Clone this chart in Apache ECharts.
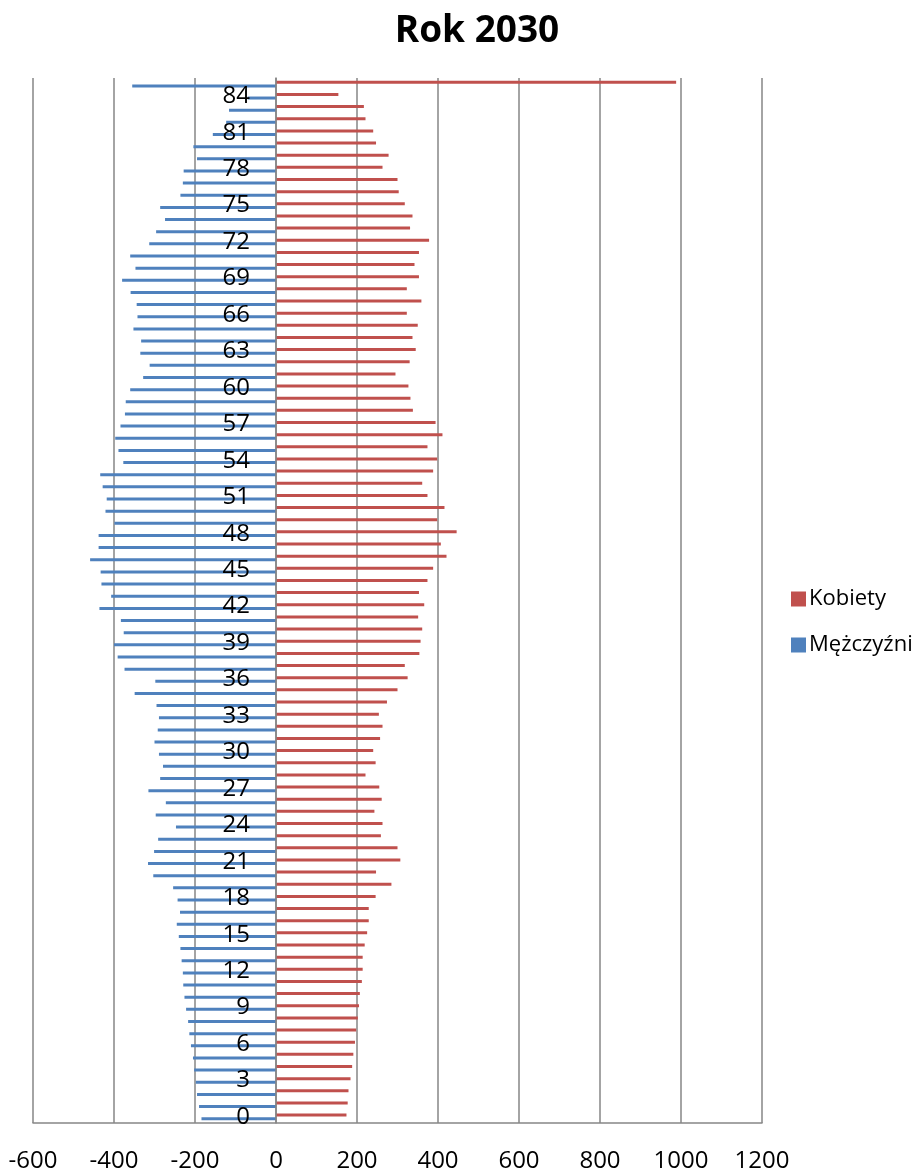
<!DOCTYPE html>
<html>
<head>
<meta charset="utf-8">
<title>Rok 2030</title>
<script src="https://cdn.jsdelivr.net/npm/echarts@6/dist/echarts.min.js"></script>
<style>
  html, body { margin: 0; padding: 0; background: #ffffff; }
  #chart { width: 923px; height: 1169px; }
</style>
</head>
<body>
<div id="chart"></div>
<script>
// Age groups 0..85 (bottom to top of the pyramid)
const ages = Array.from({ length: 86 }, (_, i) => String(i));

// Men, drawn to the left of zero (negative values), ages 0..85
const men = [
  -184, -190, -195, -198, -202, -205, -210, -214, -217, -222,
  -226, -229, -230, -233, -236, -240, -245, -237, -243, -254,
  -303, -316, -301, -291, -247, -297, -272, -315, -286, -279,
  -289, -300, -292, -289, -295, -349, -298, -374, -391, -400,
  -376, -383, -436, -407, -431, -433, -459, -438, -438, -399,
  -421, -418, -428, -434, -377, -389, -397, -384, -373, -371,
  -360, -328, -312, -335, -333, -352, -342, -344, -359, -380,
  -347, -360, -313, -296, -274, -286, -236, -230, -228, -195,
  -204, -156, -123, -116, -70, -355
];

// Women, drawn to the right of zero, ages 0..85
const women = [
  174, 177, 179, 184, 188, 191, 195, 198, 202, 205,
  207, 212, 214, 214, 219, 225, 229, 229, 246, 285,
  247, 307, 300, 259, 263, 243, 261, 255, 221, 246,
  240, 257, 263, 254, 274, 300, 325, 318, 354, 357,
  361, 351, 366, 353, 374, 388, 421, 407, 446, 398,
  416, 374, 361, 388, 398, 374, 411, 394, 338, 332,
  327, 295, 330, 345, 337, 350, 323, 359, 323, 353,
  342, 353, 378, 331, 337, 318, 303, 300, 263, 278,
  247, 240, 221, 217, 154, 988
];

const seriesNames = ['Kobiety', 'Mężczyźni'];
const titleText = 'Rok 2030';

const FONT = 'Open Sans';
const GRID_COLOR = '#868686';

// Value-axis range; the age axis sits on the zero line
const X_MIN = -600;
const X_MAX = 1200;
const GRID_LEFT = 33;
const GRID_RIGHT = 161;
const CHART_W = 923;

const plotW = CHART_W - GRID_LEFT - GRID_RIGHT;
const zeroShift = plotW * (0 - X_MIN) / (X_MAX - X_MIN);

const chart = echarts.init(document.getElementById('chart'), null, { renderer: 'canvas' });

chart.setOption({
  animation: false,
  backgroundColor: '#ffffff',
  title: {
    text: titleText,
    left: 472,
    top: 8,
    textAlign: 'center',
    textStyle: { fontFamily: FONT, fontWeight: 'bold', fontSize: 37, color: '#000000' }
  },
  legend: {
    data: seriesNames,
    orient: 'vertical',
    left: 786,
    top: 583,
    itemWidth: 15,
    itemHeight: 15,
    itemGap: 24,
    icon: 'rect',
    textStyle: { fontFamily: FONT, fontSize: 22, color: '#000000', padding: [0, 0, 0, -2] }
  },
  grid: { left: GRID_LEFT, right: GRID_RIGHT, top: 78, bottom: 46, containLabel: false, outerBoundsMode: 'none' },
  xAxis: {
    type: 'value',
    min: X_MIN,
    max: X_MAX,
    interval: 200,
    axisLine: { show: true, onZero: false, lineStyle: { color: GRID_COLOR, width: 1.5 } },
    axisTick: { show: false },
    splitLine: { show: true, lineStyle: { color: GRID_COLOR, width: 1.5 } },
    axisLabel: {
      fontFamily: FONT, fontSize: 24, color: '#000000', margin: 26,
      formatter: (v) => String(v)
    }
  },
  yAxis: {
    type: 'category',
    data: ages,
    position: 'left',
    offset: -zeroShift,
    z: 5,
    axisLine: { show: true, onZero: false, lineStyle: { color: GRID_COLOR, width: 1.5 } },
    axisTick: { show: false },
    splitLine: { show: false },
    axisLabel: {
      interval: 2,
      fontFamily: FONT,
      fontSize: 24,
      color: '#000000',
      margin: 26
    }
  },
  series: [
    {
      name: 'Kobiety',
      type: 'bar',
      data: women,
      barWidth: 3,
      barGap: '20%',
      itemStyle: { color: '#C0504D' }
    },
    {
      name: 'Mężczyźni',
      type: 'bar',
      data: men,
      barWidth: 3,
      barGap: '20%',
      itemStyle: { color: '#4F81BD' }
    }
  ]
});
</script>
</body>
</html>
